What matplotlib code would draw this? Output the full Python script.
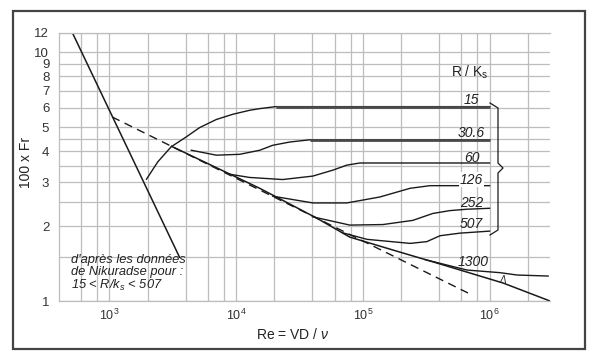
"""
Nikuradse friction diagram: 100 x Fr vs Re for several relative roughnesses R/k_s.
Values read off the scanned figure (log-log).
"""
import matplotlib
matplotlib.use("Agg")
import matplotlib.pyplot as plt
from matplotlib.patches import Rectangle
from matplotlib.ticker import FixedLocator, FixedFormatter, NullFormatter

plt.rcParams["font.family"] = ["Liberation Sans", "DejaVu Sans"]
plt.rcParams["mathtext.fontset"] = "custom"
plt.rcParams["mathtext.rm"] = "Liberation Sans"
plt.rcParams["mathtext.it"] = "Liberation Sans:italic"

# ---------------------------------------------------------------------------
# data (Re, 100 x Fr)
# ---------------------------------------------------------------------------
laminar_re = [510, 3575]
laminar_fr = [12.0, 1.50]

blasius_re = [1050, 6.76e5]          # dashed
blasius_fr = [5.50, 1.077]

smooth_re = [3090, 15350, 43300, 78900, 1.96e5, 3.85e5, 1.28e6, 3.0e6]
smooth_fr = [4.19, 2.84, 2.154, 1.807, 1.573, 1.421, 1.181, 1.00]

rk_labels = ["15", "30.6", "60", "126", "252", "507", "1300"]
rk_re = [
    [1961, 2410, 3070, 4036, 5140, 6970, 9440, 12800, 15350, 20500, 1.0e6],
    [4430, 6970, 10660, 15350, 19450, 26500, 38100, 1.0e6],
    [8730, 12800, 23300, 40300, 58000, 74800, 94600, 1.0e6],
    [19450, 40300, 74800, 1.36e5, 2.36e5, 3.39e5, 1.0e6],
    [40300, 78900, 1.44e5, 2.48e5, 3.57e5, 4.87e5, 6.64e5, 1.0e6],
    [69500, 1.08e5, 2.36e5, 3.2e5, 4.06e5, 5.85e5, 1.0e6],
    [3.09e5, 6.64e5, 1.21e6, 1.65e6, 2.9e6],
]
rk_fr = [
    [3.09, 3.63, 4.17, 4.57, 4.98, 5.37, 5.64, 5.85, 5.94, 6.05, 6.05],
    [4.04, 3.86, 3.89, 4.04, 4.23, 4.36, 4.45, 4.45],
    [3.24, 3.14, 3.08, 3.18, 3.36, 3.52, 3.59, 3.59],
    [2.64, 2.48, 2.48, 2.62, 2.84, 2.91, 2.91],
    [2.18, 2.02, 2.03, 2.11, 2.25, 2.31, 2.34, 2.36],
    [1.88, 1.77, 1.705, 1.733, 1.83, 1.875, 1.91],
    [1.468, 1.332, 1.30, 1.272, 1.26],
]
# label anchor (Re, Fr) for each curve
rk_label_re = [7.22e5, 7.22e5, 7.22e5, 7.22e5, 7.22e5, 7.22e5, 7.42e5]
rk_label_fr = [6.46, 4.72, 3.76, 3.08, 2.47, 2.04, 1.44]

x_major = [1e3, 1e4, 1e5, 1e6]
x_labels = [r"$10^{3}$", r"$10^{4}$", r"$10^{5}$", r"$10^{6}$"]
x_minor = [600, 800, 2e3, 4e3, 6e3, 8e3, 2e4, 4e4, 6e4, 8e4,
           2e5, 4e5, 6e5, 8e5, 2e6]
y_major = [1, 2, 3, 4, 5, 6, 7, 8, 9, 10, 12]
y_minor = [1.5, 2.5, 3.5, 4.5]

# ---------------------------------------------------------------------------
# figure
# ---------------------------------------------------------------------------
fig = plt.figure(figsize=(6, 3.6), dpi=100)
ax = fig.add_axes([59 / 600, 1 - 301 / 360, 491 / 600, 268.3 / 360])
ax.set_xscale("log")
ax.set_yscale("log")
ax.set_xlim(400, 3e6)
ax.set_ylim(1, 12)

ax.xaxis.set_major_locator(FixedLocator(x_major))
ax.xaxis.set_major_formatter(FixedFormatter(x_labels))
ax.xaxis.set_minor_locator(FixedLocator(x_minor))
ax.xaxis.set_minor_formatter(NullFormatter())
ax.yaxis.set_major_locator(FixedLocator(y_major))
ax.yaxis.set_major_formatter(FixedFormatter([str(v) for v in y_major]))
ax.yaxis.set_minor_locator(FixedLocator(y_minor))
ax.yaxis.set_minor_formatter(NullFormatter())
ax.tick_params(which="both", length=0)
ax.tick_params(axis="x", labelsize=9, pad=5, colors="#333333")
ax.tick_params(axis="y", labelsize=9.5, pad=7, colors="#333333")
ax.grid(which="both", color="#bdbdbd", lw=0.9)
ax.set_axisbelow(True)
for side, sp in ax.spines.items():
    sp.set_color("#bdbdbd")
    sp.set_linewidth(0.9)
ax.spines["right"].set_visible(False)

ink = "#1a1a1a"
ax.plot(laminar_re, laminar_fr, color=ink, lw=1.1)
ax.plot(blasius_re, blasius_fr, color=ink, lw=1.0, ls=(0, (6, 4)))
ax.plot(smooth_re, smooth_fr, color=ink, lw=1.1)
for i, (re, fr) in enumerate(zip(rk_re, rk_fr)):
    ax.plot(re, fr, color=ink, lw=1.0)
    if i < 2:  # the long plateaus of 15 and 30.6 are drawn heavier
        ax.plot(re[-2:], fr[-2:], color="#4a4a4a", lw=2.0, solid_capstyle="butt")

for lab, x, y in zip(rk_labels, rk_label_re, rk_label_fr):
    bb = dict(facecolor="white", edgecolor="none", pad=0.5) if lab == "126" else None
    ax.text(x, y, lab, ha="center", va="center", fontsize=10, style="italic",
            color="#222222", bbox=bb)
ax.text(7.0e5, 8.33, r"R / K$_{\mathrm{s}}$", ha="center", va="center",
        fontsize=10, color="#222222")
ax.text(1.28e6, 1.21, "Λ", ha="center", va="center", fontsize=7,
        style="italic", color="#222222")

ax.text(498, 1.29, "d'après les données\nde Nikuradse pour :\n" r"15 < R/k$_s$ < 507",
        ha="left", va="center", fontsize=9.3, style="italic", linespacing=1.0,
        color="#222222")

# curly brace grouping 15 ... 507 (axes-fraction coords)
def fx(px):
    return (px - 59) / 491


def fy(py):
    return (301 - py) / 268.3


bx = [490, 498, 498, 503, 498, 498, 490]
by = [103, 108, 163, 168, 173, 230, 235]
ax.plot([fx(v) for v in bx], [fy(v) for v in by], transform=ax.transAxes,
        color=ink, lw=0.9, clip_on=False)

ax.set_xlabel(r"Re = VD / $\nu$", fontsize=10, color="#222222")
ax.xaxis.set_label_coords(fx(293), fy(327), transform=ax.transAxes)
ax.set_ylabel("100 x Fr", fontsize=10, color="#222222")
ax.yaxis.set_label_coords(fx(33), fy(162), transform=ax.transAxes)

fig.add_artist(Rectangle((13 / 600, 1 - 349 / 360), 572 / 600, 338 / 360,
                         transform=fig.transFigure, fill=False,
                         edgecolor="#444444", lw=1.6))

fig.savefig("out.png", dpi=100)
plt.close(fig)
